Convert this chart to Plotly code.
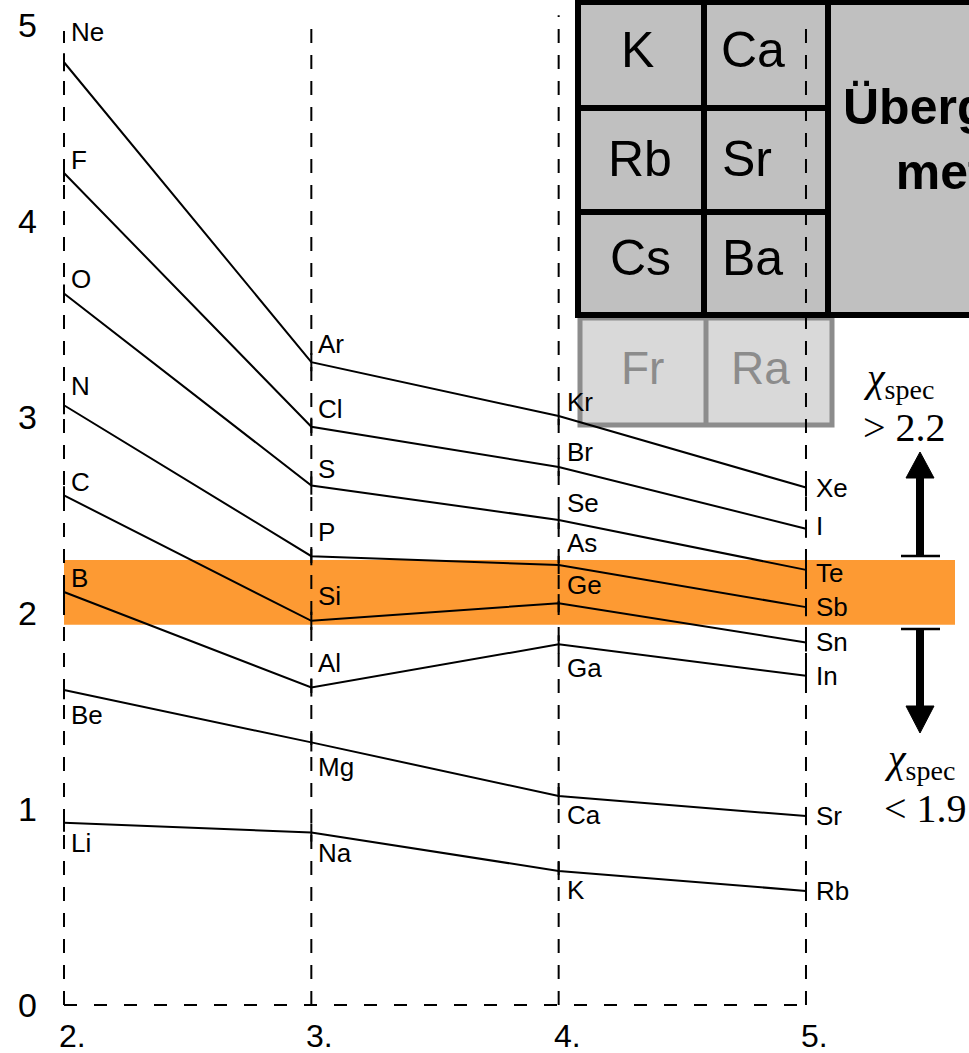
import plotly.graph_objects as go

# ---------------- data ----------------
periods = [2, 3, 4, 5]
period_labels = ["2.", "3.", "4.", "5."]
y_ticks = [0, 1, 2, 3, 4, 5]

# groups (rows) across periods 2..5
g1_elems = ["Li", "Na", "K", "Rb"]
g1_vals = [0.93, 0.88, 0.684, 0.582]
g2_elems = ["Be", "Mg", "Ca", "Sr"]
g2_vals = [1.607, 1.34, 1.066, 0.964]
g13_elems = ["B", "Al", "Ga", "In"]
g13_vals = [2.107, 1.62, 1.84, 1.68]
g14_elems = ["C", "Si", "Ge", "Sn"]
g14_vals = [2.60, 1.96, 2.05, 1.85]
g15_elems = ["N", "P", "As", "Sb"]
g15_vals = [3.06, 2.29, 2.245, 2.03]
g16_elems = ["O", "S", "Se", "Te"]
g16_vals = [3.63, 2.65, 2.475, 2.22]
g17_elems = ["F", "Cl", "Br", "I"]
g17_vals = [4.245, 2.95, 2.745, 2.43]
g18_elems = ["Ne", "Ar", "Kr", "Xe"]
g18_vals = [4.81, 3.28, 3.005, 2.64]

band_low, band_high = 1.94, 2.27
upper_text = "&gt; 2.2"
lower_text = "&lt; 1.9"

# ---------------- styles / layout helpers ----------------
W, H = 969, 1053
X0PX, XSCALE = 64.0, 247.33       # pixel of period 2, px per period
Y0PX, YSCALE = 1005.0, 196.0      # pixel of value 0, px per unit
xrange_ = [2 - X0PX / XSCALE, 2 + (W - X0PX) / XSCALE]
yrange_ = [(Y0PX - H) / YSCALE, Y0PX / YSCALE]

def PX(x):
    return x / W

def PY(y):
    return 1 - y / H

def DX(xpx):
    return 2 + (xpx - X0PX) / XSCALE

def DV(ypx):
    return (Y0PX - ypx) / YSCALE

groups = [
    (g1_elems, g1_vals, [20, 20, 19, 0]),
    (g2_elems, g2_vals, [25, 25, 19, 0]),
    (g13_elems, g13_vals, [-14, -24, 24, 0]),
    (g14_elems, g14_vals, [-13, -25, -18, 0]),
    (g15_elems, g15_vals, [-19, -24, -22, 0]),
    (g16_elems, g16_vals, [-15, -17, -17, 3]),
    (g17_elems, g17_vals, [-13, -18, -15, -3]),
    (g18_elems, g18_vals, [-30, -18, -14, 0]),
]
label_xshift = [5, 5, 6, 8]

LABEL_FONT = dict(family="Liberation Sans, Arial", size=26, color="black")

fig = go.Figure()

# dashed period lines
dash_tops = [4.97, 5.04, 5.05, 5.04]
for p, top in zip(periods, dash_tops):
    fig.add_trace(go.Scatter(x=[p, p], y=[0, top], mode="lines",
                             line=dict(color="black", width=2, dash="14px,12px"),
                             hoverinfo="skip", showlegend=False))
fig.add_trace(go.Scatter(x=[periods[0], periods[-1]], y=[0, 0], mode="lines",
                         line=dict(color="black", width=2, dash="13px,17px"),
                         hoverinfo="skip", showlegend=False))

annotations = []
for elems, vals, dys in groups:
    fig.add_trace(go.Scatter(x=periods, y=vals, mode="lines+markers",
                             line=dict(color="black", width=2),
                             marker=dict(symbol="line-ns", size=13,
                                         line=dict(color="black", width=2)),
                             hoverinfo="skip", showlegend=False))
    for p, v, e, dy, xs in zip(periods, vals, elems, dys, label_xshift):
        annotations.append(dict(x=p, y=v, xref="x", yref="y", text=e,
                                showarrow=False, xanchor="left", yanchor="middle",
                                xshift=xs, yshift=-dy, font=LABEL_FONT))

# axis tick labels
for t in y_ticks:
    annotations.append(dict(x=PX(27), xref="paper", y=t, yref="y", text=str(t),
                            showarrow=False, xanchor="center", yanchor="middle",
                            font=dict(family="Liberation Sans, Arial", size=34, color="black")))
for p, lab in zip(periods, period_labels):
    annotations.append(dict(x=p, xref="x", y=DV(1036), yref="y", text=lab,
                            showarrow=False, xanchor="left", yanchor="middle", xshift=-7,
                            font=dict(family="Liberation Sans, Arial", size=32, color="black")))

shapes = []
# orange band
shapes.append(dict(type="rect", xref="x", yref="y", x0=2, x1=DX(955),
                   y0=band_low, y1=band_high, fillcolor="#FD9A33",
                   line=dict(width=0), layer="below"))

# periodic-table inset
shapes.append(dict(type="rect", xref="paper", yref="paper",
                   x0=PX(580), x1=PX(832), y0=PY(425), y1=PY(318),
                   fillcolor="#D9D9D9", line=dict(color="#8C8C8C", width=5), layer="below"))
shapes.append(dict(type="line", xref="paper", yref="paper",
                   x0=PX(706), x1=PX(706), y0=PY(318), y1=PY(425),
                   line=dict(color="#8C8C8C", width=5), layer="below"))
shapes.append(dict(type="rect", xref="paper", yref="paper",
                   x0=PX(578), x1=PX(990), y0=PY(315), y1=PY(2),
                   fillcolor="#C0C0C0", line=dict(color="black", width=6), layer="below"))
for xv in (704, 828):
    shapes.append(dict(type="line", xref="paper", yref="paper",
                       x0=PX(xv), x1=PX(xv), y0=PY(2), y1=PY(315),
                       line=dict(color="black", width=6), layer="below"))
for yv in (108, 212):
    shapes.append(dict(type="line", xref="paper", yref="paper",
                       x0=PX(578), x1=PX(828), y0=PY(yv), y1=PY(yv),
                       line=dict(color="black", width=6), layer="below"))

cell_font = dict(family="Liberation Sans, Arial", size=50, color="black")
for txt, cx, cy in [("K", 637, 50), ("Ca", 753, 50), ("Rb", 640, 159), ("Sr", 747, 159),
                    ("Cs", 640, 258), ("Ba", 752, 258)]:
    annotations.append(dict(x=PX(cx), y=PY(cy), xref="paper", yref="paper", text=txt,
                            showarrow=False, xanchor="center", yanchor="middle", font=cell_font))
for txt, cx, cy in [("Fr", 642, 368), ("Ra", 760, 368)]:
    annotations.append(dict(x=PX(cx), y=PY(cy), xref="paper", yref="paper", text=txt,
                            showarrow=False, xanchor="center", yanchor="middle",
                            font=dict(family="Liberation Sans, Arial", size=46, color="#8C8C8C")))
annotations.append(dict(x=PX(982), y=PY(140), xref="paper", yref="paper",
                        text="<b>Übergangs-</b><br><b>metalle</b>",
                        showarrow=False, xanchor="center", yanchor="middle", align="center",
                        font=dict(family="Liberation Sans, Arial", size=50, color="black")))

# right side arrows
shapes += [
    dict(type="line", xref="paper", yref="paper", x0=PX(901), x1=PX(940), y0=PY(556), y1=PY(556),
         line=dict(color="black", width=2.5)),
    dict(type="line", xref="paper", yref="paper", x0=PX(920), x1=PX(920), y0=PY(556), y1=PY(472),
         line=dict(color="black", width=8)),
    dict(type="path", xref="paper", yref="paper",
         path=f"M {PX(906)} {PY(478)} L {PX(934)} {PY(478)} L {PX(920)} {PY(452)} Z",
         fillcolor="black", line=dict(color="black", width=1)),
    dict(type="line", xref="paper", yref="paper", x0=PX(901), x1=PX(940), y0=PY(629), y1=PY(629),
         line=dict(color="black", width=2.5)),
    dict(type="line", xref="paper", yref="paper", x0=PX(920), x1=PX(920), y0=PY(629), y1=PY(712),
         line=dict(color="black", width=8)),
    dict(type="path", xref="paper", yref="paper",
         path=f"M {PX(906)} {PY(706)} L {PX(934)} {PY(706)} L {PX(920)} {PY(733)} Z",
         fillcolor="black", line=dict(color="black", width=1)),
]

serif = dict(family="Liberation Serif, Times New Roman", size=40, color="black")
for txt, xl, yc in [("<i>χ</i><sub>spec</sub>", 861, 380), (upper_text, 861, 427),
                    ("<i>χ</i><sub>spec</sub>", 882, 761), (lower_text, 882, 808)]:
    annotations.append(dict(x=PX(xl), y=PY(yc), xref="paper", yref="paper", text=txt,
                            showarrow=False, xanchor="left", yanchor="middle", font=serif))

fig.update_layout(
    width=W, height=H,
    margin=dict(l=0, r=0, t=0, b=0, pad=0),
    paper_bgcolor="white", plot_bgcolor="white",
    xaxis=dict(range=xrange_, visible=False, fixedrange=True),
    yaxis=dict(range=yrange_, visible=False, fixedrange=True),
    shapes=shapes, annotations=annotations, showlegend=False,
)
fig.write_html("out.html", config={"displayModeBar": False},
               post_script="document.body.style.margin='0';document.body.style.overflow='hidden';")
